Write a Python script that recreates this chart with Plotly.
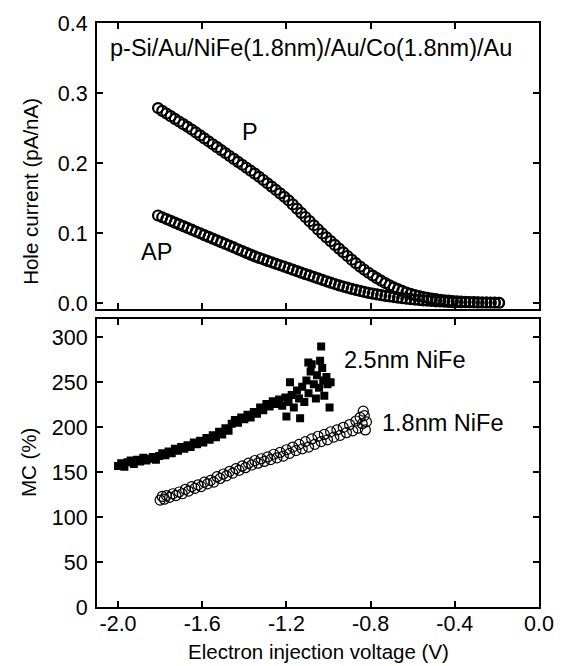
import plotly.graph_objects as go

# ---------------- data ----------------
v_top = [-1.81, -1.79, -1.77, -1.75, -1.73, -1.71, -1.69, -1.67, -1.65, -1.63,
         -1.61, -1.59, -1.57, -1.55, -1.53, -1.51, -1.49, -1.47, -1.45, -1.43,
         -1.41, -1.39, -1.37, -1.35, -1.33, -1.31, -1.29, -1.27, -1.25, -1.23,
         -1.21, -1.19, -1.17, -1.15, -1.13, -1.11, -1.09, -1.07, -1.05, -1.03,
         -1.01, -0.99, -0.97, -0.95, -0.93, -0.91, -0.89, -0.87, -0.85, -0.83,
         -0.81, -0.79, -0.77, -0.75, -0.73, -0.71, -0.69, -0.67, -0.65, -0.63,
         -0.61, -0.59, -0.57, -0.55, -0.53, -0.51, -0.49, -0.47, -0.45, -0.43,
         -0.41, -0.39, -0.37, -0.35, -0.33, -0.31, -0.29, -0.27, -0.25, -0.23,
         -0.21, -0.19]

p_current = [0.2785, 0.2745, 0.2707, 0.2669, 0.2631, 0.2593, 0.2555, 0.2517, 0.2478, 0.2436,
             0.2394, 0.2352, 0.2310, 0.2268, 0.2226, 0.2184, 0.2142, 0.2100, 0.2058, 0.2016,
             0.1974, 0.1932, 0.1890, 0.1848, 0.1803, 0.1757, 0.1710, 0.1663, 0.1615, 0.1566,
             0.1517, 0.1467, 0.1408, 0.1348, 0.1288, 0.1228, 0.1169, 0.1110, 0.1051, 0.0993,
             0.0938, 0.0884, 0.0830, 0.0777, 0.0724, 0.0671, 0.0619, 0.0568, 0.0520, 0.0475,
             0.0432, 0.0392, 0.0354, 0.0318, 0.0285, 0.0253, 0.0224, 0.0197, 0.0172, 0.0150,
             0.0130, 0.0113, 0.0098, 0.0085, 0.0073, 0.0063, 0.0054, 0.0046, 0.0039, 0.0033,
             0.0028, 0.0023, 0.0019, 0.0016, 0.0013, 0.0011, 0.0009, 0.0007, 0.0006, 0.0005,
             0.0004, 0.0003]

ap_current = [0.1250, 0.1225, 0.1199, 0.1174, 0.1148, 0.1123, 0.1098, 0.1072, 0.1047, 0.1021,
              0.0996, 0.0970, 0.0945, 0.0920, 0.0894, 0.0869, 0.0843, 0.0818, 0.0793, 0.0767,
              0.0742, 0.0716, 0.0691, 0.0666, 0.0645, 0.0624, 0.0602, 0.0581, 0.0560, 0.0539,
              0.0518, 0.0497, 0.0476, 0.0455, 0.0434, 0.0413, 0.0393, 0.0372, 0.0351, 0.0331,
              0.0310, 0.0290, 0.0271, 0.0252, 0.0235, 0.0218, 0.0202, 0.0187, 0.0172, 0.0158,
              0.0145, 0.0133, 0.0122, 0.0112, 0.0102, 0.0093, 0.0085, 0.0077, 0.0069, 0.0062,
              0.0055, 0.0049, 0.0043, 0.0037, 0.0032, 0.0028, 0.0024, 0.0021, 0.0018, 0.0015,
              0.0013, 0.0011, 0.0009, 0.0008, 0.0007, 0.0006, 0.0005, 0.0004, 0.0004, 0.0003,
              0.0003, 0.0002]

v_25nm = [-2.000, -1.985, -1.970, -1.955, -1.940, -1.925, -1.910, -1.895, -1.880, -1.865,
          -1.850, -1.835, -1.820, -1.805, -1.790, -1.775, -1.760, -1.745, -1.730, -1.715,
          -1.700, -1.685, -1.670, -1.655, -1.640, -1.625, -1.610, -1.595, -1.580, -1.565,
          -1.550, -1.535, -1.520, -1.505, -1.490, -1.475, -1.460, -1.445, -1.430, -1.415,
          -1.400, -1.385, -1.370, -1.355, -1.340, -1.325, -1.310, -1.295, -1.280, -1.265,
          -1.250, -1.235, -1.220, -1.205, -1.200, -1.190, -1.183, -1.175, -1.165, -1.150,
          -1.140, -1.135, -1.125, -1.115, -1.105, -1.096, -1.095, -1.085, -1.080, -1.070,
          -1.060, -1.055, -1.045, -1.040, -1.035, -1.030, -1.025, -1.020, -1.010, -1.005,
          -0.995, -0.990]
mc_25nm = [157, 160, 156, 161, 163, 159, 164, 162, 166, 163,
           165, 167, 164, 168, 171, 169, 173, 171, 176, 174,
           178, 176, 180, 178, 183, 181, 185, 183, 188, 186,
           191, 189, 195, 192, 199, 196, 204, 208, 205, 211,
           209, 214, 211, 217, 215, 222, 219, 226, 223, 229,
           226, 231, 224, 233, 212, 228, 250, 236, 222, 241,
           232, 210, 245, 228, 252, 272, 238, 262, 270, 248,
           232, 258, 244, 274, 290, 266, 252, 235, 256, 248,
           222, 250]

v_18nm = [-1.800, -1.790, -1.780, -1.770, -1.755, -1.740, -1.725, -1.710, -1.695, -1.680,
          -1.665, -1.650, -1.635, -1.620, -1.605, -1.590, -1.575, -1.560, -1.545, -1.530,
          -1.515, -1.500, -1.485, -1.470, -1.455, -1.440, -1.425, -1.410, -1.395, -1.380,
          -1.365, -1.350, -1.335, -1.320, -1.305, -1.290, -1.275, -1.260, -1.245, -1.230,
          -1.215, -1.200, -1.185, -1.170, -1.155, -1.140, -1.125, -1.110, -1.095, -1.080,
          -1.065, -1.050, -1.035, -1.020, -1.005, -0.990, -0.975, -0.960, -0.945, -0.930,
          -0.915, -0.900, -0.885, -0.870, -0.860, -0.850, -0.840, -0.835, -0.830, -0.825,
          -0.820]
mc_18nm = [119, 123, 120, 124, 122, 126, 124, 128, 126, 131,
           129, 134, 132, 136, 134, 139, 137, 141, 139, 145,
           143, 148, 146, 151, 149, 154, 152, 157, 155, 160,
           158, 163, 160, 165, 162, 167, 164, 170, 166, 172,
           168, 175, 171, 178, 174, 181, 176, 184, 178, 187,
           181, 190, 184, 192, 186, 195, 189, 197, 191, 200,
           194, 203, 196, 207, 199, 211, 204, 218, 213, 197,
           206]

x_ticks = [-2.0, -1.6, -1.2, -0.8, -0.4, 0.0]
x_ticklabels = ["-2.0", "-1.6", "-1.2", "-0.8", "-0.4", "0.0"]
top_yticks = [0.0, 0.1, 0.2, 0.3, 0.4]
top_yticklabels = ["0.0", "0.1", "0.2", "0.3", "0.4"]
bot_yticks = [0, 50, 100, 150, 200, 250, 300]
bot_yticklabels = ["0", "50", "100", "150", "200", "250", "300"]

# ---------------- figure ----------------
FONT = "Liberation Sans, Arial, Helvetica, sans-serif"
fig = go.Figure()

ring = dict(symbol="circle-open", size=10, color="black", line=dict(color="black", width=2.2))
fig.add_trace(go.Scatter(x=v_top, y=p_current, mode="markers", marker=ring,
                         xaxis="x", yaxis="y", showlegend=False))
fig.add_trace(go.Scatter(x=v_top, y=ap_current, mode="markers", marker=ring,
                         xaxis="x", yaxis="y", showlegend=False))
fig.add_trace(go.Scatter(x=v_25nm, y=mc_25nm, mode="markers",
                         marker=dict(symbol="square", size=8, color="black"),
                         xaxis="x2", yaxis="y2", showlegend=False))
fig.add_trace(go.Scatter(x=v_18nm, y=mc_18nm, mode="markers",
                         marker=dict(symbol="circle-open", size=10, color="black",
                                     line=dict(width=1.2)),
                         xaxis="x2", yaxis="y2", showlegend=False))

axis_common = dict(showline=True, linecolor="black", linewidth=2, mirror="allticks",
                   ticks="inside", ticklen=6, tickwidth=2, tickcolor="black",
                   showgrid=False, zeroline=False,
                   tickfont=dict(family=FONT, size=21.5, color="black"))

fig.update_layout(
    width=566, height=666,
    margin=dict(l=97, r=25, t=18, b=59),
    paper_bgcolor="white", plot_bgcolor="white",
    xaxis=dict(axis_common, domain=[0, 1], range=[-2.1, 0], anchor="y",
               tickvals=x_ticks, ticktext=x_ticklabels, showticklabels=False),
    yaxis=dict(axis_common, domain=[0.511, 1], range=[-0.008, 0.4], anchor="x",
               tickvals=top_yticks, ticktext=top_yticklabels, ticklabelstandoff=3),
    xaxis2=dict(axis_common, domain=[0, 1], range=[-2.1, 0], anchor="y2",
                tickvals=x_ticks, ticktext=x_ticklabels, ticklabelstandoff=-4),
    yaxis2=dict(axis_common, domain=[0, 0.4924], range=[0, 320], anchor="x2",
                tickvals=bot_yticks, ticktext=bot_yticklabels, ticklabelstandoff=3),
)

ann_font = dict(family=FONT, size=23.5, color="black")
title_font = dict(family=FONT, size=20.5, color="black")
fig.add_annotation(x=-2.050, y=0.3646, xref="x", yref="y", text="p-Si/Au/NiFe(1.8nm)/Au/Co(1.8nm)/Au",
                   showarrow=False, xanchor="left", yanchor="middle", font=ann_font)
fig.add_annotation(x=-1.3715, y=0.2442, xref="x", yref="y", text="P",
                   showarrow=False, xanchor="center", yanchor="middle", font=ann_font)
fig.add_annotation(x=-1.8176, y=0.0728, xref="x", yref="y", text="AP",
                   showarrow=False, xanchor="center", yanchor="middle", font=ann_font)
fig.add_annotation(x=-0.9363, y=274.8, xref="x2", yref="y2", text="2.5nm NiFe",
                   showarrow=False, xanchor="left", yanchor="middle", font=ann_font)
fig.add_annotation(x=-0.7533, y=204.5, xref="x2", yref="y2", text="1.8nm NiFe",
                   showarrow=False, xanchor="left", yanchor="middle", font=ann_font)

fig.add_annotation(x=(30 - 97) / 444, y=(607 - 188) / 589, xref="paper", yref="paper",
                   text="Hole current (pA/nA)", textangle=-90, showarrow=False,
                   xanchor="center", yanchor="middle", font=title_font)
fig.add_annotation(x=(28 - 97) / 444, y=(607 - 461.5) / 589, xref="paper", yref="paper",
                   text="MC (%)", textangle=-90, showarrow=False,
                   xanchor="center", yanchor="middle", font=title_font)
fig.add_annotation(x=0.5, y=(607 - 652) / 589, xref="paper", yref="paper",
                   text="Electron injection voltage (V)", showarrow=False,
                   xanchor="center", yanchor="middle", font=title_font)

fig.write_html("out.html", config={"displayModeBar": False},
               post_script="document.body.style.margin='0';document.body.style.overflow='hidden';")
